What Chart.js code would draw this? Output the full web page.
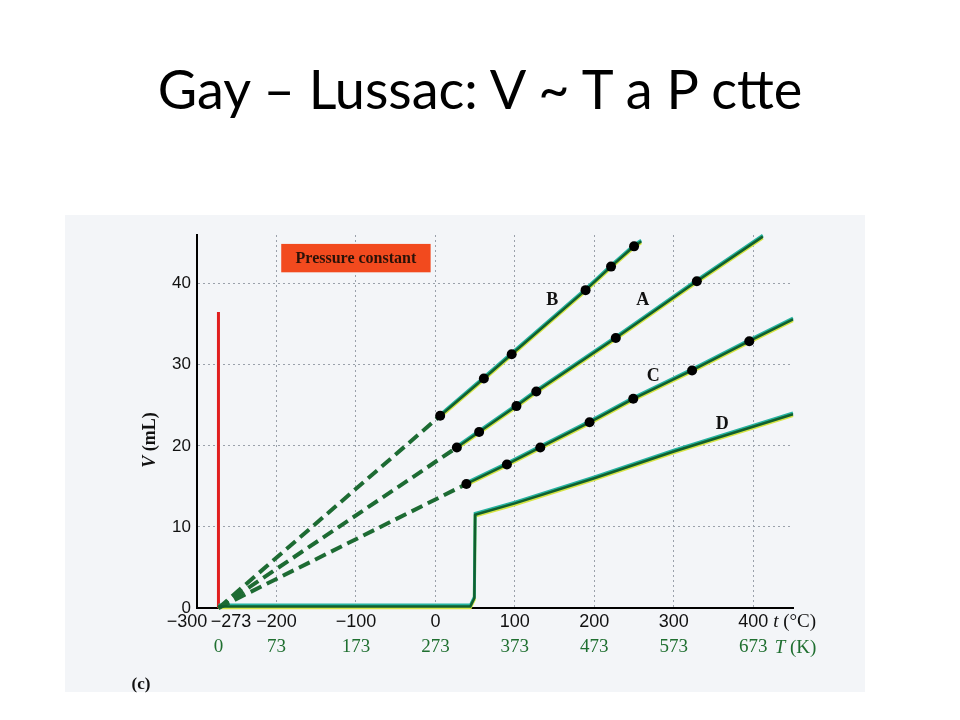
<!DOCTYPE html>
<html><head><meta charset="utf-8">
<script src="https://cdn.jsdelivr.net/npm/chart.js@4.4.1/dist/chart.umd.min.js"></script>
<style>
html,body{margin:0;padding:0;background:#fff;}
#wrap{position:relative;width:960px;height:720px;overflow:hidden;background:#fff;}
#title{position:absolute;left:0;top:62px;width:960px;text-align:center;font-family:Lato,"Open Sans",sans-serif;font-size:54px;color:#000;line-height:1;white-space:nowrap;}
#panel{position:absolute;left:65px;top:215px;width:800px;height:477px;background:#f3f5f8;}
canvas{position:absolute;left:0;top:0;}
</style></head><body>
<div id="wrap">
<div id="title">Gay – Lussac: V ~ T a P ctte</div>
<div id="panel"></div>
<canvas id="c" width="960" height="720"></canvas>
</div>
<script>
// ---- tick values and labels ----
const celsiusTicks = [-300, -273, -200, -100, 0, 100, 200, 300, 400];
const celsiusLabels = ['−300', '−273', '−200', '−100', '0', '100', '200', '300', '400'];
const kelvinTicks = [-273, -200, -100, 0, 100, 200, 300, 400];
const kelvinLabels = ['0', '73', '173', '273', '373', '473', '573', '673'];
const volumeTicks = [0, 10, 20, 30, 40];

// ---- series (t in °C, V in mL) ----
const absZeroC = -273;
const redLineV = [0, 36.5];
const bT = [6, 61, 96, 189, 221, 250];
const bV = [23.7, 28.3, 31.3, 39.2, 42.1, 44.6];
const bEnd = [259, 45.2];
const aT = [27, 55, 102, 127, 227, 329];
const aV = [19.8, 21.7, 24.9, 26.7, 33.3, 40.3];
const aEnd = [412, 45.8];
const cT = [39, 90, 132, 194, 249, 323, 395];
const cV = [15.3, 17.7, 19.8, 22.9, 25.8, 29.3, 32.9];
const cEnd = [450, 35.6];
const dT = [-273, 44, 49, 50, 100, 200, 300, 450];
const dV = [0.2, 0.2, 1.2, 11.5, 12.9, 16.0, 19.3, 23.9];

const CORE = '#115f2e', TEAL = '#26b3a0', YEL = '#d6e444', DASH = '#1d6b33', KGREEN = '#1f6f30';

function pts(T, V) { return T.map((t, i) => ({x: t, y: V[i]})); }

const datasets = [];
function addSolid(data) {
  datasets.push({type: 'line', data, borderColor: CORE, borderWidth: 2.5, pointRadius: 0, order: 1, clip: false});
  datasets.push({type: 'line', data, borderColor: TEAL, borderWidth: 3, pointRadius: 0, order: 2, clip: false, shiftY: -1.3});
  datasets.push({type: 'line', data, borderColor: YEL, borderWidth: 3, pointRadius: 0, order: 3, clip: false, shiftY: 1.3});
}
function addSeries(T, V, end) {
  const dots = pts(T, V);
  datasets.push({type: 'scatter', data: dots, showLine: false, pointRadius: 5, pointBackgroundColor: '#000', pointBorderColor: '#000', pointBorderWidth: 0, order: 0, clip: false});
  addSolid(dots.concat([{x: end[0], y: end[1]}]));
  datasets.push({type: 'line', data: [{x: absZeroC, y: 0}, dots[0]], borderColor: DASH, borderWidth: 4, borderDash: [12, 6], pointRadius: 0, order: 2, clip: false});
}
addSeries(bT, bV, bEnd);
addSeries(aT, aV, aEnd);
addSeries(cT, cV, cEnd);
addSolid(pts(dT, dV));
datasets.push({type: 'line', data: redLineV.map(v => ({x: absZeroC, y: v})), borderColor: '#e01e1e', borderWidth: 3, pointRadius: 0, order: 4, clip: false});

function rich(ctx, parts, x, y) {
  let cx = x;
  for (const p of parts) {
    ctx.font = p.font;
    ctx.fillText(p.text, cx, y);
    cx += ctx.measureText(p.text).width;
  }
}

const shifter = {
  id: 'shifter',
  beforeDatasetDraw(chart, args) {
    const ds = chart.data.datasets[args.index];
    chart.ctx.save();
    if (ds.shiftY) chart.ctx.translate(0, ds.shiftY);
  },
  afterDatasetDraw(chart) { chart.ctx.restore(); }
};

const annot = {
  id: 'annot',
  afterDraw(chart) {
    const {ctx, scales: {x, y}} = chart;
    ctx.save();
    // pressure constant box
    const bx0 = x.getPixelForValue(-194), bx1 = x.getPixelForValue(-6);
    const by0 = y.getPixelForValue(44.9), by1 = y.getPixelForValue(41.4);
    ctx.fillStyle = '#f24a1e';
    ctx.fillRect(bx0, by0, bx1 - bx0, by1 - by0);
    ctx.fillStyle = '#2b1208';
    ctx.font = 'bold 16px "Liberation Serif"';
    ctx.textAlign = 'center';
    ctx.textBaseline = 'middle';
    ctx.fillText('Pressure constant', (bx0 + bx1) / 2, (by0 + by1) / 2 + 1);
    // series letters
    ctx.fillStyle = '#111';
    ctx.font = 'bold 18px "Liberation Serif"';
    [['B', 147, 38.0], ['A', 261, 38.0], ['C', 274, 28.6], ['D', 361, 22.6]].forEach(([s, t, v]) => {
      ctx.fillText(s, x.getPixelForValue(t), y.getPixelForValue(v));
    });
    // y title
    ctx.save();
    ctx.translate(150, 440);
    ctx.rotate(-Math.PI / 2);
    ctx.textAlign = 'left';
    ctx.textBaseline = 'middle';
    ctx.font = 'bold italic 18px "Liberation Serif"';
    const w1 = ctx.measureText('V').width;
    ctx.font = 'bold 18px "Liberation Serif"';
    const full = w1 + ctx.measureText(' (mL)').width;
    rich(ctx, [{text: 'V', font: 'bold italic 18px "Liberation Serif"'}, {text: ' (mL)', font: 'bold 18px "Liberation Serif"'}], -full / 2, 0);
    ctx.restore();
    // axis unit labels
    ctx.textAlign = 'left';
    ctx.textBaseline = 'alphabetic';
    ctx.fillStyle = '#111';
    rich(ctx, [{text: 't', font: 'italic 19px "Liberation Serif"'}, {text: ' (°C)', font: '19px "Liberation Serif"'}], x.getPixelForValue(425), 627);
    ctx.fillStyle = KGREEN;
    rich(ctx, [{text: 'T', font: 'italic 19px "Liberation Serif"'}, {text: ' (K)', font: '19px "Liberation Serif"'}], x.getPixelForValue(427), 653);
    // panel tag
    ctx.fillStyle = '#111';
    ctx.font = 'bold 17px "Liberation Serif"';
    ctx.textAlign = 'center';
    ctx.textBaseline = 'middle';
    ctx.fillText('(c)', 141, 685);
    ctx.restore();
  }
};

new Chart(document.getElementById('c'), {
  data: {datasets},
  options: {
    responsive: false,
    animation: false,
    layout: {padding: {left: 0, top: 235, right: 167, bottom: 58}},
    plugins: {legend: {display: false}, tooltip: {enabled: false}},
    elements: {line: {tension: 0}},
    scales: {
      x: {
        type: 'linear', position: 'bottom', weight: 0, min: -300, max: 450,
        afterBuildTicks: s => { s.ticks = celsiusTicks.map(v => ({value: v})); },
        afterFit: s => { s.height = 28; },
        ticks: {
          autoSkip: false, maxRotation: 0, padding: 3, color: '#111',
          font: {family: '"Liberation Sans"', size: 18},
          callback: v => {
            const s = celsiusLabels[celsiusTicks.indexOf(v)];
            if (v === -300) return s + '    ';
            if (v === -273) return '     ' + s;
            return s;
          }
        },
        grid: {color: c => (c.tick && c.tick.value > -250) ? '#9aa1ab' : 'rgba(0,0,0,0)', lineWidth: 1, drawTicks: false},
        border: {display: true, color: '#000', width: 2, dash: [2, 3]}
      },
      x2: {
        type: 'linear', position: 'bottom', weight: 1, min: -300, max: 450,
        afterBuildTicks: s => { s.ticks = kelvinTicks.map(v => ({value: v})); },
        afterFit: s => { s.height = 26; },
        ticks: {
          autoSkip: false, maxRotation: 0, padding: 0, color: KGREEN,
          font: {family: '"Liberation Serif"', size: 19},
          callback: v => kelvinLabels[kelvinTicks.indexOf(v)]
        },
        grid: {display: false, drawTicks: false},
        border: {display: false}
      },
      y: {
        type: 'linear', position: 'left', min: 0, max: 46,
        afterBuildTicks: s => { s.ticks = volumeTicks.map(v => ({value: v})); },
        afterFit: s => { s.width = 197; },
        ticks: {padding: 6, color: '#111', font: {family: '"Liberation Sans"', size: 17}},
        grid: {color: c => (c.tick && c.tick.value > 0) ? '#9aa1ab' : 'rgba(0,0,0,0)', lineWidth: 1, drawTicks: false},
        border: {display: true, color: '#000', width: 2, dash: [2, 3]}
      }
    }
  },
  plugins: [shifter, annot]
});
</script>
</body></html>
